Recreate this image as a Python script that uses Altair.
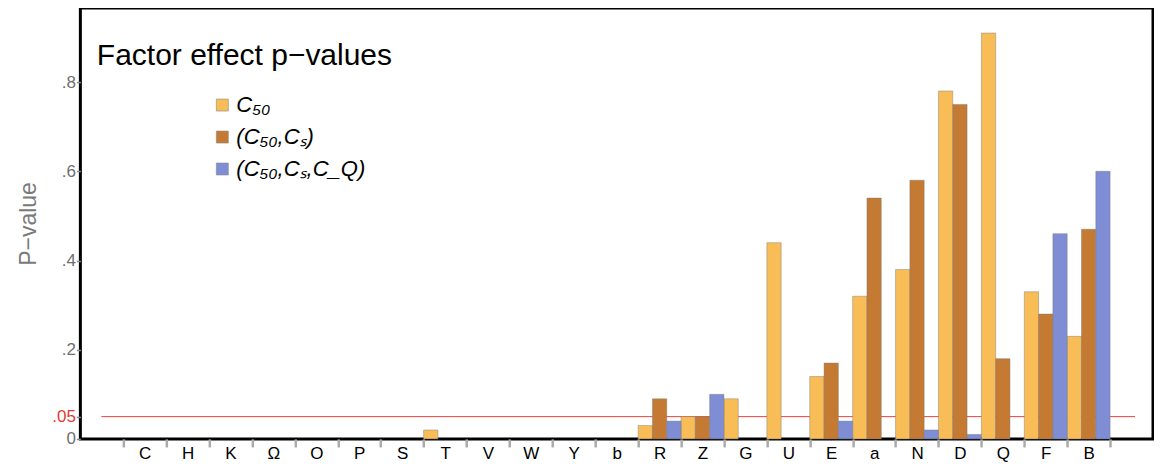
import altair as alt
import pandas as pd

# ---- data ----
categories = ["C", "H", "K", "Ω", "O", "P", "S", "T", "V", "W", "Y", "b",
              "R", "Z", "G", "U", "E", "a", "N", "D", "Q", "F", "B"]
series = ["C₅₀", "(C₅₀,Cₛ)", "(C₅₀,Cₛ,C_Q)"]
p_c50 = [0, 0, 0, 0, 0, 0, 0, 0.02, 0, 0, 0, 0,
         0.03, 0.05, 0.09, 0.44, 0.14, 0.32, 0.38, 0.78, 0.91, 0.33, 0.23]
p_c50_cs = [0, 0, 0, 0, 0, 0, 0, 0, 0, 0, 0, 0,
            0.09, 0.05, 0, 0, 0.17, 0.54, 0.58, 0.75, 0.18, 0.28, 0.47]
p_c50_cs_cq = [0, 0, 0, 0, 0, 0, 0, 0, 0, 0, 0, 0,
               0.04, 0.10, 0, 0, 0.04, 0, 0.02, 0.01, 0, 0.46, 0.60]
threshold = [0.05]
y_ticks = [0, 0.05, 0.2, 0.4, 0.6, 0.8]
chart_title = ["Factor effect p−values"]
colors = ["#F8BD56", "#C47A33", "#7E8DD4"]

rows = []
for s, vals in zip(series, [p_c50, p_c50_cs, p_c50_cs_cq]):
    for c, v in zip(categories, vals):
        rows.append({"factor": c, "model": s, "p": v})
df = pd.DataFrame(rows)
df_thr = pd.DataFrame({"threshold": threshold})
df_title = pd.DataFrame({"t": chart_title})

W, H = 1073, 431
FONT = "Liberation Sans"

y_scale = alt.Scale(domain=[0, 0.966], nice=False, zero=True)
y_axis = alt.Axis(
    title="P−value",
    values=y_ticks,
    labelExpr="datum.value == 0 ? '0' : replace(format(datum.value, '.2~f'), '0.', '.')",
    grid=False,
    domain=False,
    tickSize=4,
    tickWidth=1.5,
    tickColor="#8a8a8a",
    labelPadding=1,
    labelFontSize=17,
    labelFont=FONT,
    labelColor={"condition": {"test": "datum.value == 0.05", "value": "#e03a34"}, "value": "#6f6f6f"},
    titleFont=FONT,
    titleFontSize=23,
    titleFontWeight="normal",
    titleColor="#7a7a7a",
    titlePadding=11,
)

bars = alt.Chart(df).transform_filter(
    "datum.p > 0"
).mark_bar(
    stroke="#7a7a7a", strokeWidth=0.8, strokeOpacity=0.55
).encode(
    x=alt.X(
        "factor:N",
        sort=categories,
        scale=alt.Scale(domain=categories, paddingInner=0, paddingOuter=1),
        axis=alt.Axis(
            title=None,
            labelAngle=0,
            tickBand="extent",
            domain=False,
            tickSize=8,
            tickWidth=2.5,
            tickColor="#ababab",
            labelFontSize=17,
            labelFont=FONT,
            labelColor="black",
            labelPadding=-1,
        ),
    ),
    xOffset=alt.XOffset("model:N", sort=series,
                        scale=alt.Scale(domain=series, paddingInner=0, paddingOuter=0)),
    y=alt.Y("p:Q", scale=y_scale, axis=y_axis),
    color=alt.Color(
        "model:N",
        sort=series,
        scale=alt.Scale(domain=series, range=colors),
        legend=alt.Legend(
            title=None,
            orient="none",
            legendX=131,
            legendY=86,
            symbolType="square",
            symbolSize=144,
            symbolStrokeColor="#8a8a8a",
            symbolStrokeWidth=0.6,
            labelFont=FONT,
            labelFontSize=22,
            labelFontStyle="italic",
            labelColor="black",
            labelOffset=3,
            rowPadding=10,
        ),
    ),
)

rule = alt.Chart(df_thr).mark_rule(color="#e8403a", strokeWidth=1).encode(
    x=alt.value(21),
    x2=alt.value(1055),
    y=alt.Y("threshold:Q", scale=y_scale, axis=y_axis),
)

title_text = alt.Chart(df_title).mark_text(
    align="left", baseline="alphabetic", fontSize=30, font=FONT, color="black"
).encode(
    x=alt.value(16.5),
    y=alt.value(57),
    text="t:N",
)

chart = alt.layer(rule, bars, title_text).properties(
    width=W,
    height=H,
    autosize="none",
    padding={"left": 72.4, "top": 0, "right": 1, "bottom": 26},
    background="white",
).configure_view(
    stroke="black", strokeWidth=3, fill="white"
)

chart.save("out.html", embed_options={"renderer": "svg", "actions": False})
